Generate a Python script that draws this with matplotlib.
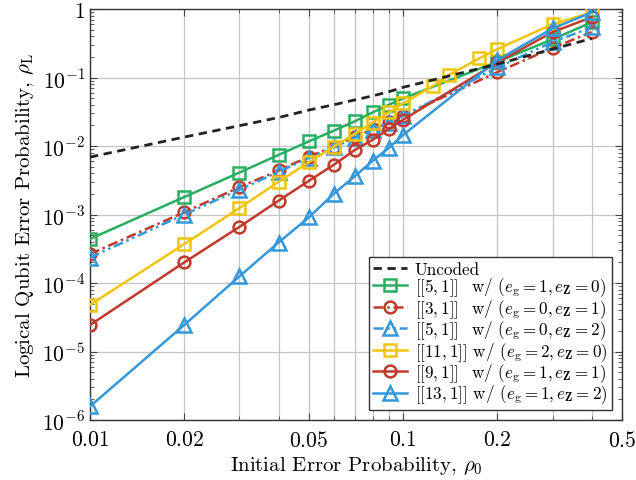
import matplotlib
matplotlib.use("Agg")
import matplotlib.pyplot as plt
from matplotlib.ticker import LogLocator, FixedLocator, FixedFormatter, NullFormatter

plt.rcParams['font.family'] = 'serif'
plt.rcParams['font.serif'] = ['cmr10', 'DejaVu Serif']
plt.rcParams['mathtext.fontset'] = 'cm'
plt.rcParams['axes.formatter.use_mathtext'] = True

# ---- data ----
p = [0.01, 0.02, 0.03, 0.04, 0.05, 0.06, 0.07, 0.08, 0.09, 0.1, 0.2, 0.3, 0.4]
p_yellow = [0.01, 0.02, 0.03, 0.04, 0.05, 0.06, 0.07, 0.08, 0.09, 0.1,
            0.125, 0.14, 0.175, 0.2, 0.3, 0.4]

uncoded = [0.0069, 0.0135, 0.0198, 0.026, 0.0335, 0.040, 0.047, 0.054, 0.062,
           0.072, 0.157, 0.26, 0.37]
green_51 = [4.4e-4, 1.8e-3, 4.1e-3, 7.4e-3, 1.17e-2, 1.67e-2, 2.29e-2, 3.1e-2,
            4.0e-2, 4.95e-2, 0.17, 0.36, 0.64]
red_31 = [2.65e-4, 1.08e-3, 2.5e-3, 4.4e-3, 7.0e-3, 9.8e-3, 1.34e-2, 1.76e-2,
          2.22e-2, 2.78e-2, 0.12, 0.27, 0.46]
blue_51 = [2.35e-4, 1.0e-3, 2.3e-3, 4.2e-3, 6.7e-3, 9.6e-3, 1.31e-2, 1.73e-2,
           2.2e-2, 2.75e-2, 0.14, 0.33, 0.54]
yellow_111 = [4.8e-5, 3.7e-4, 1.24e-3, 3.0e-3, 5.8e-3, 9.8e-3, 1.5e-2, 2.2e-2,
              3.1e-2, 4.2e-2, 0.076, 0.109, 0.19, 0.26, 0.60, 0.89]
red_91 = [2.44e-5, 2.0e-4, 6.6e-4, 1.59e-3, 3.1e-3, 5.3e-3, 8.7e-3, 1.24e-2,
          1.77e-2, 2.42e-2, 0.166, 0.46, 0.76]
blue_131 = [1.58e-6, 2.44e-5, 1.25e-4, 3.9e-4, 9.1e-4, 2.0e-3, 3.6e-3, 6.1e-3,
            9.4e-3, 1.45e-2, 0.18, 0.52, 0.89]

labels = [
    r"Uncoded",
    r"$[[5,1]]$$\hspace{0.45}$ w/ $(e_{\rm g}=1, e_{\mathbf{Z}}=0)$",
    r"$[[3,1]]$$\hspace{0.45}$ w/ $(e_{\rm g}=0, e_{\mathbf{Z}}=1)$",
    r"$[[5,1]]$$\hspace{0.45}$ w/ $(e_{\rm g}=0, e_{\mathbf{Z}}=2)$",
    r"$[[11,1]]$ w/ $(e_{\rm g}=2, e_{\mathbf{Z}}=0)$",
    r"$[[9,1]]$$\hspace{0.45}$ w/ $(e_{\rm g}=1, e_{\mathbf{Z}}=1)$",
    r"$[[13,1]]$ w/ $(e_{\rm g}=1, e_{\mathbf{Z}}=2)$",
]

GREEN = '#27AE60'
RED = '#C0392B'
BLUE = '#3498DB'
YELLOW = '#F1C40F'

fig = plt.figure(figsize=(6.36, 4.81), dpi=100)
ax = fig.add_axes([0.1415, 0.1247, 0.8365, 0.8545])

lw = 1.8
ms = 8.5
mew = 1.8

ax.plot(p, uncoded, color='#222222', lw=2.0, ls=(0, (3, 2)), label=labels[0], zorder=5)
ax.plot(p, green_51, color=GREEN, lw=lw, marker='s', ms=ms, mfc='none', mew=mew,
        label=labels[1], zorder=3)
ax.plot(p, red_31, color=RED, lw=lw, ls=(0, (4, 1.5, 1, 1.5)), marker='o', ms=ms,
        mfc='none', mew=mew, label=labels[2], zorder=3)
ax.plot(p, blue_51, color=BLUE, lw=lw, ls=(0, (4, 1.5, 1, 1.5, 1, 1.5)), marker='^',
        ms=ms + 1, mfc='none', mew=mew, label=labels[3], zorder=3)
ax.plot(p_yellow, yellow_111, color=YELLOW, lw=lw, marker='s', ms=ms, mfc='none',
        mew=mew, label=labels[4], zorder=3)
ax.plot(p, red_91, color=RED, lw=lw, marker='o', ms=ms, mfc='none', mew=mew,
        label=labels[5], zorder=3)
ax.plot(p, blue_131, color=BLUE, lw=lw, marker='^', ms=ms + 1, mfc='none', mew=mew,
        label=labels[6], zorder=3)

ax.set_xscale('log')
ax.set_yscale('log')
ax.set_xlim(0.01, 0.5)
ax.set_ylim(1e-6, 1)

xt = [0.01, 0.02, 0.05, 0.1, 0.2, 0.5]
xtl = ['0.01', '0.02', '0.05', '0.1', '0.2', '0.5']
ax.xaxis.set_major_locator(FixedLocator(xt))
ax.xaxis.set_major_formatter(FixedFormatter([r'$%s$' % s for s in xtl]))
ax.xaxis.set_minor_locator(FixedLocator([0.03, 0.04, 0.06, 0.07, 0.08, 0.09, 0.3, 0.4]))
ax.xaxis.set_minor_formatter(NullFormatter())

yt = [1e-6, 1e-5, 1e-4, 1e-3, 1e-2, 1e-1, 1]
ytl = [r'$10^{-6}$', r'$10^{-5}$', r'$10^{-4}$', r'$10^{-3}$', r'$10^{-2}$',
       r'$10^{-1}$', r'$1$']
ax.yaxis.set_major_locator(FixedLocator(yt))
ax.yaxis.set_major_formatter(FixedFormatter(ytl))
ax.yaxis.set_minor_locator(LogLocator(base=10, subs=range(2, 10), numticks=20))
ax.yaxis.set_minor_formatter(NullFormatter())

ax.grid(True, which='major', color='#c4c4c4', lw=0.9)
ax.grid(True, which='minor', axis='x', color='#c4c4c4', lw=0.9)
ax.set_axisbelow(True)

ax.tick_params(which='both', direction='in', top=True, right=True, colors='#444444',
               labelcolor='black', labelsize=15.5)
ax.tick_params(which='major', length=5, width=0.8)
ax.tick_params(which='minor', length=3, width=0.6)
ax.tick_params(axis='x', which='major', pad=7)
for s in ax.spines.values():
    s.set_color('#333333')
    s.set_linewidth(1.0)

ax.set_xlabel(r'Initial Error Probability, $\rho_0$', fontsize=15, labelpad=3)
ax.set_ylabel(r'Logical Qubit Error Probability, $\rho_{\rm L}$', fontsize=15, labelpad=4)

leg = ax.legend(loc='lower right', fontsize=12.3, frameon=True, fancybox=False,
                edgecolor='#333333', framealpha=1, borderpad=0.25, labelspacing=-0.08,
                handlelength=2.0, handletextpad=0.45, borderaxespad=0.6)
leg.get_frame().set_linewidth(1.0)

fig.savefig('out.png', dpi=100)
